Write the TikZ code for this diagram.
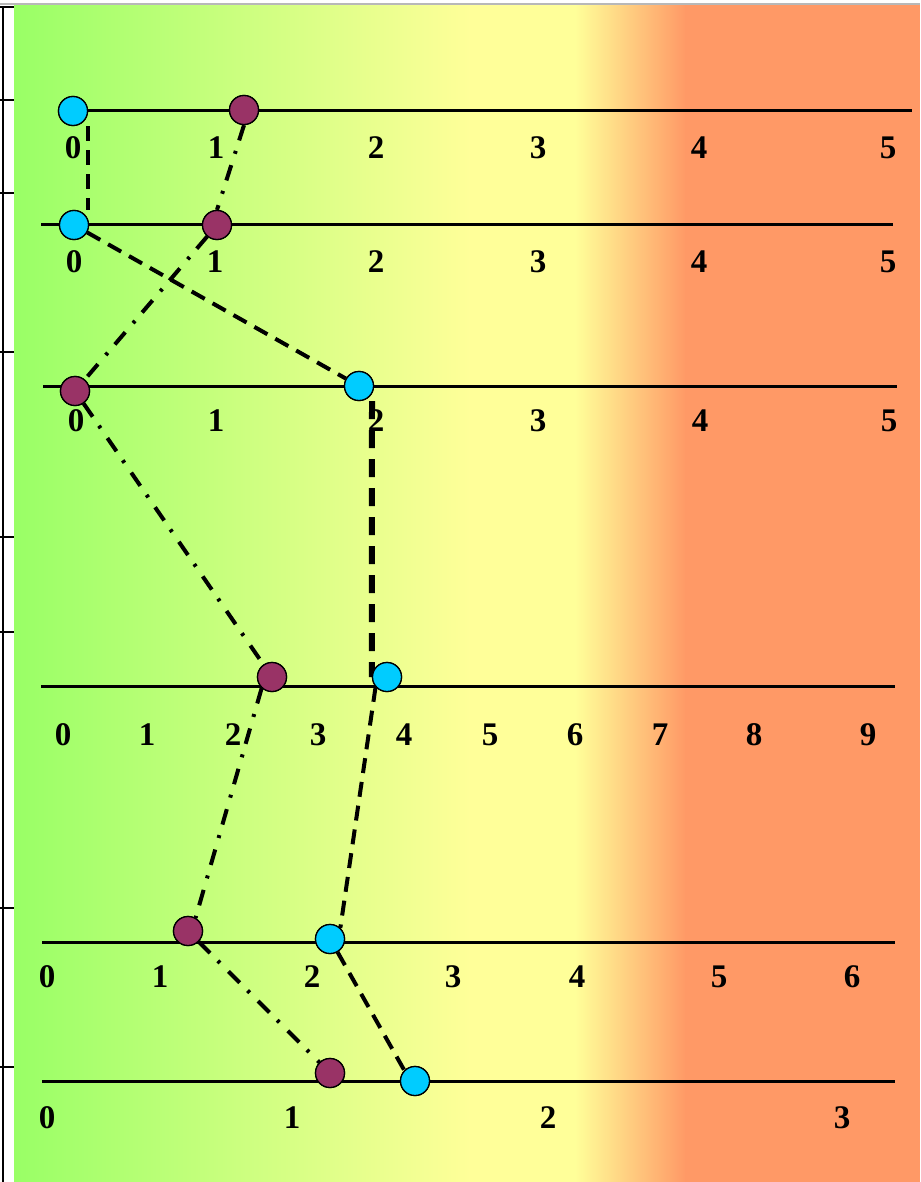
\documentclass[tikz,border=0pt]{standalone}
\usepackage{fontspec}
\setmainfont{Liberation Serif}
\begin{document}
\begin{tikzpicture}[x=1pt,y=-1pt,
  lbl/.style={inner sep=0pt,font=\fontsize{33}{34}\selectfont\bfseries},
  axisline/.style={line width=3pt,black},
  bdot/.style={circle,draw=black,line width=1.3pt,fill=dotblue,minimum size=29pt,inner sep=0pt},
  pdot/.style={circle,draw=black,line width=1.3pt,fill=dotpurple,minimum size=29pt,inner sep=0pt},
  bchain/.style={line width=4pt,dash pattern=on 15pt off 9pt},
  bchainthick/.style={line width=6pt,dash pattern=on 18pt off 11pt},
  pchain/.style={line width=4pt,dash pattern=on 16pt off 11pt on 3pt off 12pt},
  tick/.style={line width=1.5pt,black}]
\definecolor{bggreen}{RGB}{153,255,102}
\definecolor{bgyellow}{RGB}{255,255,153}
\definecolor{bgorange}{RGB}{255,153,102}
\definecolor{dotblue}{RGB}{0,204,255}
\definecolor{dotpurple}{RGB}{153,51,102}
\useasboundingbox (0,0) rectangle (920,1182);
\fill[white] (0,0) rectangle (920,1182);
% background gradient
\shade[left color=bggreen,right color=bgyellow,draw=none] (14,5) rectangle (471,1182);
\fill[bgyellow] (470,5) rectangle (576,1182);
\shade[left color=bgyellow,right color=bgorange,draw=none] (575,5) rectangle (686,1182);
\fill[bgorange] (685,5) rectangle (920,1182);
% frame
\draw[line width=2pt,black!28] (0,4.5) -- (920,4.5);
\draw[line width=1.6pt] (0,7) -- (14,7);
\draw[line width=1.6pt] (3,7) -- (3,1182);
\foreach \yy in {100,193,352,537,632,908,1067}
  \draw[tick] (0,\yy) -- (14,\yy);
% axes
\draw[axisline] (73,111) -- (912,111);
\draw[axisline] (41,225) -- (893,225);
\draw[axisline] (43,386) -- (897,386);
\draw[axisline] (41,686) -- (895,686);
\draw[axisline] (42,942) -- (895,942);
\draw[axisline] (42,1081) -- (895,1081);
% labels
\foreach \xx/\t in {73/0,216/1,376/2,538/3,699/4,888/5}
  \node[lbl] at (\xx,148) {\t};
\foreach \xx/\t in {74/0,215/1,376/2,538/3,699/4,888/5}
  \node[lbl] at (\xx,262) {\t};
\foreach \xx/\t in {76/0,216/1,376/2,538/3,700/4,889/5}
  \node[lbl] at (\xx,421) {\t};
\foreach \xx/\t in {63/0,147/1,233/2,318/3,404/4,490/5,575/6,660/7,754/8,868/9}
  \node[lbl] at (\xx,735) {\t};
\foreach \xx/\t in {47/0,160/1,312/2,453/3,577/4,719/5,852/6}
  \node[lbl] at (\xx,977) {\t};
\foreach \xx/\t in {47/0,292/1,548/2,842/3}
  \node[lbl] at (\xx,1118) {\t};
% dots
\node[bdot] (b1) at (73,111) {};
\node[pdot] (p1) at (244,110) {};
\node[bdot] (b2) at (74,225) {};
\node[pdot] (p2) at (217,225) {};
\node[pdot] (p3) at (75,391) {};
\node[bdot] (b3) at (359,386) {};
\node[pdot] (p4) at (272,677) {};
\node[bdot] (b4) at (387,677) {};
\node[pdot] (p5) at (188,931) {};
\node[bdot] (b5) at (330,939) {};
\node[pdot] (p6) at (330,1073) {};
\node[bdot] (b6) at (415,1081) {};
% connectors
\draw[bchain] ([xshift=15pt]b1.south) -- ([xshift=14pt]b2.north);
\draw[bchain] (b2) -- (b3);
\draw[bchainthick] ([xshift=13pt]b3.south) -- (b4.west);
\draw[bchain] (b4.221) -- (b5.47);
\draw[bchain] (b5.-60) -- (b6.135);
\draw[pchain] (p1.south) -- (p2.north);
\draw[pchain] (p2) -- (p3);
\draw[pchain] (p3) -- (p4);
\draw[pchain] (p4.227) -- (p5.60);
\draw[pchain] (p5) -- (p6);
% dots again on top of connectors
\foreach \n/\s in {b1/bdot,p1/pdot,b2/bdot,p2/pdot,p3/pdot,b3/bdot,p4/pdot,b4/bdot,p5/pdot,b5/bdot,p6/pdot,b6/bdot}
  \node[\s] at (\n.center) {};
\end{tikzpicture}
\end{document}
